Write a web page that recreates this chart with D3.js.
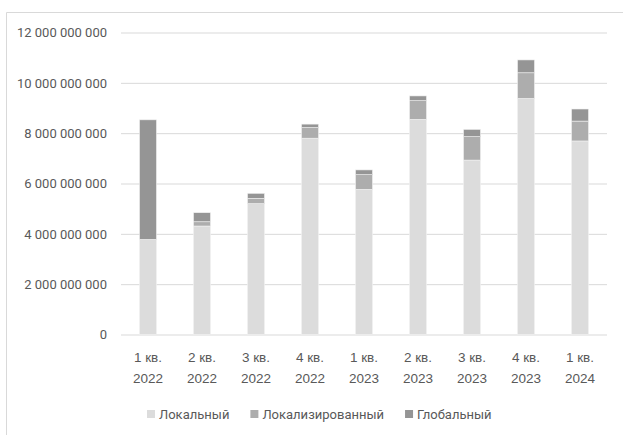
<!DOCTYPE html>
<html>
<head>
<meta charset="utf-8">
<script src="https://cdn.jsdelivr.net/npm/d3@7"></script>
<style>
  html, body { margin: 0; padding: 0; background: #fff; }
  svg { display: block; font-family: Roboto, "Open Sans", sans-serif; }
</style>
</head>
<body>
<svg id="chart" width="623" height="435"></svg>
<script>
// Quarters on the x axis (two-line labels)
const quarters = ["1 кв.|2022", "2 кв.|2022", "3 кв.|2022", "4 кв.|2022",
                  "1 кв.|2023", "2 кв.|2023", "3 кв.|2023", "4 кв.|2023", "1 кв.|2024"];
// Stacked series values
const local     = [3.78e9, 4.31e9, 5.20e9, 7.80e9, 5.77e9, 8.55e9, 6.93e9, 9.38e9, 7.69e9];
const localized = [0,      0.17e9, 0.21e9, 0.42e9, 0.58e9, 0.74e9, 0.93e9, 1.02e9, 0.79e9];
const global    = [4.75e9, 0.36e9, 0.20e9, 0.14e9, 0.19e9, 0.19e9, 0.29e9, 0.51e9, 0.48e9];
const seriesNames = ["Локальный", "Локализированный", "Глобальный"];
const yTicks = [0, 2e9, 4e9, 6e9, 8e9, 10e9, 12e9];

const colors = ["#dcdcdc", "#adadad", "#959595"];
const textColor = "#595959";
const gridColor = "#d9d9d9";

const svg = d3.select("#chart");

// Outer chart frame
svg.append("path")
  .attr("d", "M6.5,435 V12.5 H623")
  .attr("fill", "none").attr("stroke", gridColor).attr("stroke-width", 1);

const plot = { left: 121, right: 607, top: 32.5, bottom: 334.5 };

const x = d3.scaleBand().domain(quarters).range([plot.left, plot.right])
  .paddingInner(0.685).paddingOuter(0.3425);
const y = d3.scaleLinear().domain([0, 12e9]).range([plot.bottom, plot.top]);

const fmt = v => d3.format(",")(v).replace(/,/g, " ");

// Gridlines and y tick labels
const yAxis = d3.axisLeft(y).tickValues(yTicks).tickSize(-(plot.right - plot.left))
  .tickPadding(14).tickFormat(fmt);
const gy = svg.append("g").attr("transform", `translate(${plot.left},0)`).call(yAxis);
gy.select(".domain").remove();
gy.selectAll(".tick line").attr("stroke", gridColor).attr("stroke-width", 1);
gy.selectAll(".tick text").attr("fill", textColor).attr("font-size", 13)
  .attr("font-family", "Roboto, sans-serif");

// Stacked bars
const rows = quarters.map((q, i) => ({ q, [seriesNames[0]]: local[i], [seriesNames[1]]: localized[i], [seriesNames[2]]: global[i] }));
const stack = d3.stack().keys(seriesNames)(rows);

svg.append("g").selectAll("g").data(stack).join("g")
  .attr("fill", (d, i) => colors[i])
  .selectAll("rect").data(d => d).join("rect")
  .attr("x", d => x(d.data.q))
  .attr("width", x.bandwidth())
  .attr("y", d => y(d[1]))
  .attr("height", d => Math.max(0, y(d[0]) - y(d[1])))
  .attr("stroke", "#f2f2f2").attr("stroke-width", 0.6);

// X axis labels (two lines)
const xAxis = d3.axisBottom(x).tickSize(0).tickPadding(0).tickFormat("");
const gx = svg.append("g").attr("transform", `translate(0,${plot.bottom})`).call(xAxis);
gx.select(".domain").remove();
gx.selectAll(".tick").each(function(d) {
  const parts = d.split("|");
  const t = d3.select(this).append("text")
    .attr("fill", textColor).attr("font-size", 13.5).attr("text-anchor", "middle");
  t.append("tspan").attr("x", 0).attr("y", 27).text(parts[0]);
  t.append("tspan").attr("x", 0).attr("y", 48).text(parts[1]);
});

// Legend
const legend = svg.append("g").attr("transform", "translate(147,414)");
let lx = 0;
seriesNames.forEach((name, i) => {
  const g = legend.append("g").attr("transform", `translate(${lx},0)`);
  g.append("rect").attr("x", 0).attr("y", -4).attr("width", 8).attr("height", 8).attr("fill", colors[i]);
  const t = g.append("text").attr("x", 12).attr("y", 4.5)
    .attr("fill", textColor).attr("font-size", 13).text(name);
  lx += 12 + t.node().getComputedTextLength() + 21;
});
</script>
</body>
</html>
